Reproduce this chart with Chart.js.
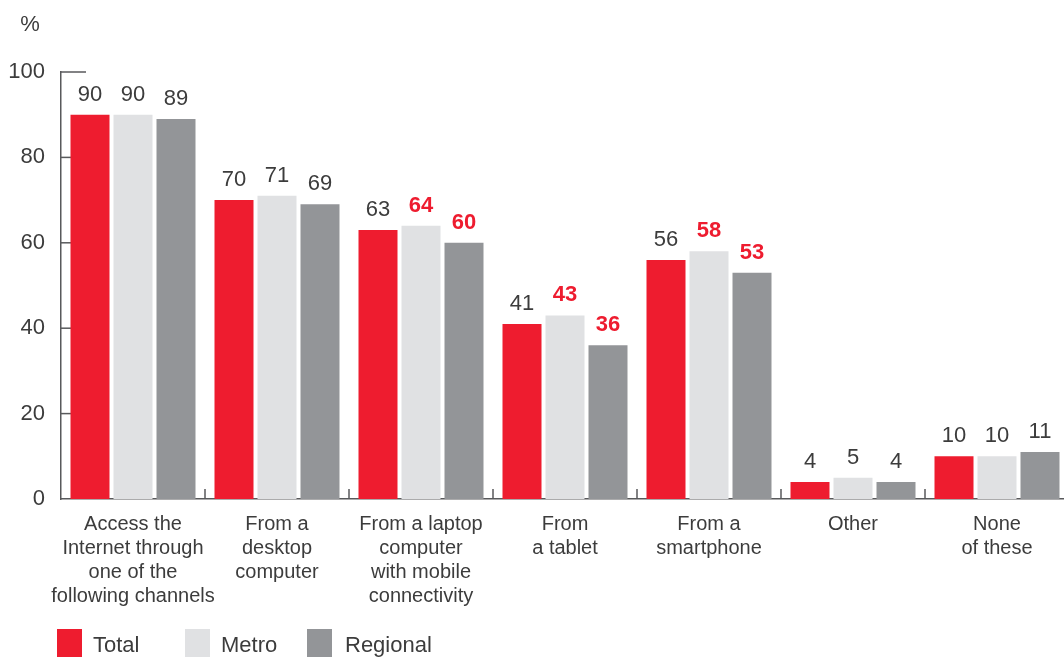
<!DOCTYPE html>
<html>
<head>
<meta charset="utf-8">
<script src="https://cdn.jsdelivr.net/npm/chart.js@4"></script>
<style>
html, body { margin: 0; padding: 0; background: #fff; overflow: hidden; }
#wrap { position: relative; width: 1064px; height: 657px; overflow: hidden; }
#chart { position: absolute; left: 0; top: 0; }
.legend-item { position: absolute; top: 629px; height: 40px; }
.legend-box { position: absolute; left: 0; top: 0; width: 25px; height: 40px; }
.legend-text { position: absolute; top: 3px; white-space: nowrap;
  font: 22px "Liberation Sans", Arial, sans-serif; color: #3c3c3c; }
</style>
</head>
<body>
<div id="wrap">
  <canvas id="chart" width="1070" height="657"></canvas>
  <div class="legend-item" style="left:57px"><div class="legend-box" style="background:#ee1c2f"></div><div class="legend-text" style="left:36px">Total</div></div>
  <div class="legend-item" style="left:185px"><div class="legend-box" style="background:#e0e1e3"></div><div class="legend-text" style="left:36px">Metro</div></div>
  <div class="legend-item" style="left:307px"><div class="legend-box" style="background:#939598"></div><div class="legend-text" style="left:38px">Regional</div></div>
</div>
<script>
// Chart data
const categories = [
    ['Access the', 'Internet through', 'one of the', 'following channels'],
    ['From a', 'desktop', 'computer'],
    ['From a laptop', 'computer', 'with mobile', 'connectivity'],
    ['From', 'a tablet'],
    ['From a', 'smartphone'],
    ['Other'],
    ['None', 'of these']
];
const totalValues = [90, 70, 63, 41, 56, 4, 10];
const metroValues = [90, 71, 64, 43, 58, 5, 10];
const regionalValues = [89, 69, 60, 36, 53, 4, 11];
// labels shown in bold red
const totalSignificant = [false, false, false, false, false, false, false];
const metroSignificant = [false, false, true, true, true, false, false];
const regionalSignificant = [false, false, true, true, true, false, false];
const yTicks = [0, 20, 40, 60, 80, 100];

const FONT = '"Liberation Sans", Arial, sans-serif';
const TEXT = '#3c3c3c';
const AXIS = '#58595b';
const RED = '#ee1c2f';

// axis ticks drawn inside the plot, behind the bars
const axisTicksPlugin = {
    id: 'axisTicks',
    beforeDatasetsDraw(chart) {
        const { ctx, chartArea, scales } = chart;
        ctx.save();
        ctx.strokeStyle = AXIS;
        ctx.lineWidth = 1.5;
        yTicks.forEach(v => {
            if (v === 0) return;
            const y = scales.y.getPixelForValue(v);
            ctx.beginPath();
            ctx.moveTo(chartArea.left, y);
            ctx.lineTo(chartArea.left + 25, y);
            ctx.stroke();
        });
        for (let i = 1; i < categories.length; i++) {
            const x = (scales.x.getPixelForTick(i - 1) + scales.x.getPixelForTick(i)) / 2;
            ctx.beginPath();
            ctx.moveTo(x, chartArea.bottom);
            ctx.lineTo(x, chartArea.bottom - 10);
            ctx.stroke();
        }
        ctx.restore();
    },
    afterDraw(chart) {
        const { ctx } = chart;
        ctx.save();
        ctx.fillStyle = TEXT;
        ctx.font = '22px ' + FONT;
        ctx.textAlign = 'center';
        ctx.textBaseline = 'alphabetic';
        ctx.fillText('%', 30, 31);
        ctx.restore();
    }
};

const valueLabelsPlugin = {
    id: 'valueLabels',
    afterDatasetsDraw(chart) {
        const { ctx } = chart;
        ctx.save();
        ctx.textAlign = 'center';
        ctx.textBaseline = 'alphabetic';
        chart.data.datasets.forEach((ds, di) => {
            const meta = chart.getDatasetMeta(di);
            meta.data.forEach((bar, i) => {
                const bold = ds.significant[i];
                ctx.font = (bold ? 'bold ' : '') + '22px ' + FONT;
                ctx.fillStyle = bold ? RED : TEXT;
                ctx.fillText(String(ds.data[i]), bar.x, bar.y - 14);
            });
        });
        ctx.restore();
    }
};

function makeSet(label, values, color, significant) {
    return {
        label: label,
        data: values,
        backgroundColor: color,
        borderWidth: 0,
        significant: significant,
        categoryPercentage: 129 / 144,
        barPercentage: 39 / 43
    };
}

new Chart(document.getElementById('chart').getContext('2d'), {
    type: 'bar',
    data: {
        labels: categories,
        datasets: [
            makeSet('Total', totalValues, RED, totalSignificant),
            makeSet('Metro', metroValues, '#e0e1e3', metroSignificant),
            makeSet('Regional', regionalValues, '#939598', regionalSignificant)
        ]
    },
    options: {
        responsive: false,
        animation: false,
        layout: { padding: { top: 72, right: 1, left: 0, bottom: 0 } },
        plugins: { legend: { display: false }, tooltip: { enabled: false } },
        scales: {
            x: {
                grid: { display: false, drawTicks: false },
                border: { display: true, color: AXIS, width: 1.5 },
                ticks: {
                    color: TEXT, padding: 13, maxRotation: 0, autoSkip: false,
                    font: { family: FONT, size: 20, lineHeight: '24px' }
                },
                afterFit: s => { s.height = 158; }
            },
            y: {
                min: 0, max: 100,
                grid: { display: false, drawTicks: false },
                border: { display: true, color: AXIS, width: 1.5 },
                ticks: {
                    stepSize: 20, color: TEXT, padding: 16,
                    font: { family: FONT, size: 22 }
                },
                afterFit: s => { s.width = 61; }
            }
        }
    },
    plugins: [axisTicksPlugin, valueLabelsPlugin]
});
</script>
</body>
</html>
